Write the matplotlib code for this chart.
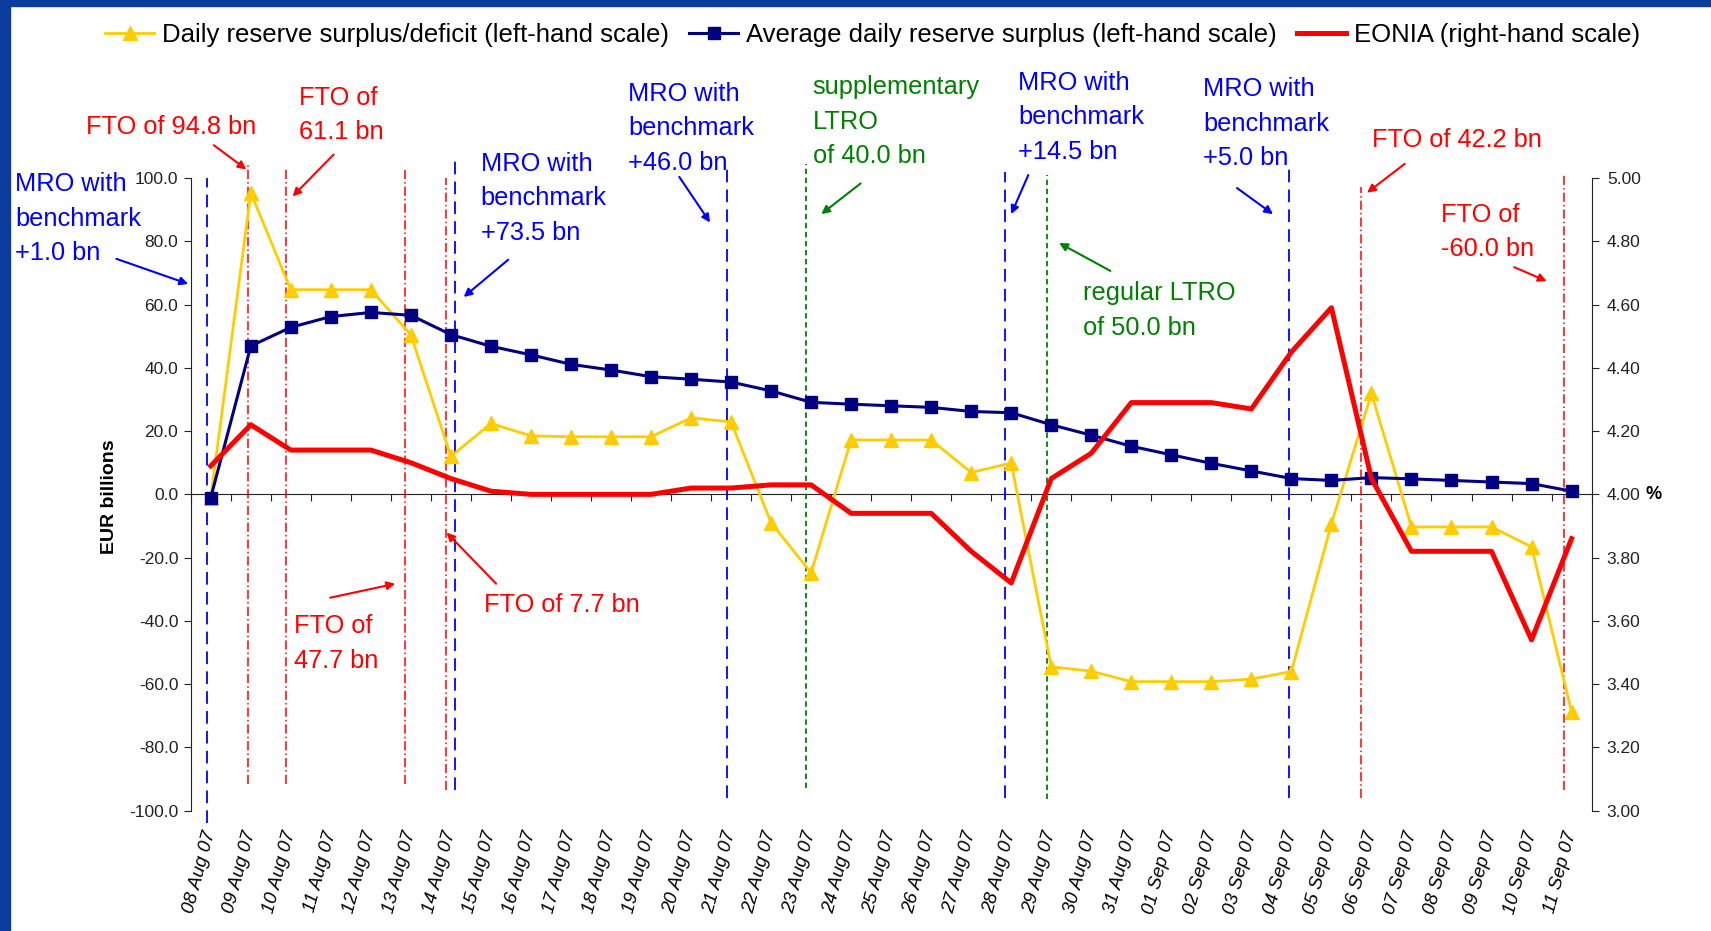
import matplotlib
matplotlib.use("Agg")
import matplotlib.pyplot as plt
import matplotlib.transforms as mtransforms
import numpy as np
from matplotlib.patches import Rectangle
from matplotlib.ticker import FormatStrFormatter

plt.rcParams["font.family"] = ["Liberation Sans", "DejaVu Sans"]
plt.rcParams["axes.unicode_minus"] = False

# --- data ---
dates = [
    "08 Aug 07", "09 Aug 07", "10 Aug 07", "11 Aug 07", "12 Aug 07", "13 Aug 07",
    "14 Aug 07", "15 Aug 07", "16 Aug 07", "17 Aug 07", "18 Aug 07", "19 Aug 07",
    "20 Aug 07", "21 Aug 07", "22 Aug 07", "23 Aug 07", "24 Aug 07", "25 Aug 07",
    "26 Aug 07", "27 Aug 07", "28 Aug 07", "29 Aug 07", "30 Aug 07", "31 Aug 07",
    "01 Sep 07", "02 Sep 07", "03 Sep 07", "04 Sep 07", "05 Sep 07", "06 Sep 07",
    "07 Sep 07", "08 Sep 07", "09 Sep 07", "10 Sep 07", "11 Sep 07",
]
daily_surplus = [
    -1.0, 95.3, 64.7, 64.7, 64.7, 50.4, 12.0, 22.4, 18.5, 18.2, 18.2, 18.2,
    24.2, 22.9, -9.0, -24.8, 17.2, 17.2, 17.2, 6.9, 9.9, -54.5, -55.9, -59.2,
    -59.2, -59.2, -58.4, -56.0, -9.3, 31.9, -10.3, -10.3, -10.3, -16.6, -68.7,
]
avg_surplus = [
    -1.0, 46.9, 52.8, 56.2, 57.5, 56.6, 50.5, 46.8, 44.1, 41.1, 39.3, 37.2,
    36.4, 35.5, 32.7, 29.1, 28.5, 28.0, 27.5, 26.2, 25.8, 22.0, 18.7, 15.2,
    12.5, 9.8, 7.4, 5.0, 4.4, 5.3, 4.9, 4.4, 3.9, 3.4, 1.0,
]
eonia = [
    4.09, 4.22, 4.14, 4.14, 4.14, 4.10, 4.05, 4.01, 4.00, 4.00, 4.00, 4.00,
    4.02, 4.02, 4.03, 4.03, 3.94, 3.94, 3.94, 3.82, 3.72, 4.05, 4.13, 4.29,
    4.29, 4.29, 4.27, 4.45, 4.59, 4.05, 3.82, 3.82, 3.82, 3.54, 3.86,
]

# operation markers: (category position, top, bottom) - top/bottom in axes fraction
mro_ops = [(-0.1, 1.0, -0.02), (6.1, 1.028, 0.033), (12.9, 1.014, 0.02),
           (19.85, 1.01, 0.02), (26.94, 1.014, 0.02)]
fto_ops = [(0.94, 1.02, 0.043), (1.87, 1.014, 0.043), (4.86, 1.014, 0.043),
           (5.88, 1.0, 0.033), (28.74, 0.985, 0.02), (33.82, 1.005, 0.033)]
ltro_ops = [(14.86, 1.022, 0.036), (20.9, 1.005, 0.019)]

BLUE = "#0000FF"
RED = "#FF0000"
GREEN = "#008000"

# callouts: text, colour, text position, arrow tail, arrow head (figure fraction)
callouts = [
    ("MRO with\nbenchmark\n+1.0 bn", BLUE, (0.009, 0.815), (0.068, 0.722), (0.110, 0.695)),
    ("FTO of 94.8 bn", RED, (0.050, 0.877), (0.125, 0.844), (0.144, 0.818)),
    ("FTO of\n61.1 bn", RED, (0.175, 0.908), (0.195, 0.834), (0.171, 0.789)),
    ("MRO with\nbenchmark\n+73.5 bn", BLUE, (0.281, 0.837), (0.297, 0.721), (0.271, 0.681)),
    ("MRO with\nbenchmark\n+46.0 bn", BLUE, (0.367, 0.912), (0.397, 0.810), (0.415, 0.761)),
    ("supplementary\nLTRO\nof 40.0 bn", GREEN, (0.475, 0.919), (0.503, 0.803), (0.480, 0.770)),
    ("MRO with\nbenchmark\n+14.5 bn", BLUE, (0.595, 0.924), (0.601, 0.812), (0.591, 0.770)),
    ("MRO with\nbenchmark\n+5.0 bn", BLUE, (0.703, 0.917), (0.723, 0.798), (0.744, 0.770)),
    ("FTO of 42.2 bn", RED, (0.802, 0.863), (0.821, 0.824), (0.799, 0.793)),
    ("FTO of\n-60.0 bn", RED, (0.842, 0.782), (0.885, 0.713), (0.904, 0.698)),
    ("regular LTRO\nof 50.0 bn", GREEN, (0.633, 0.698), (0.649, 0.709), (0.619, 0.739)),
    ("FTO of\n47.7 bn", RED, (0.172, 0.340), (0.193, 0.358), (0.231, 0.373)),
    ("FTO of 7.7 bn", RED, (0.283, 0.363), (0.290, 0.373), (0.261, 0.428)),
]

fig = plt.figure(figsize=(17.11, 9.31), dpi=100)
fig.patch.set_facecolor("white")

# blue slide frame on the top and left edges
frame = "#0B3C9E"
fig.patches.append(Rectangle((0, 0), 10 / 1711, 1, transform=fig.transFigure, color=frame, zorder=-5))
fig.patches.append(Rectangle((0, 1 - 6 / 931), 1, 6 / 931, transform=fig.transFigure, color=frame, zorder=-5))

ax = fig.add_axes([0.1115, 0.1292, 0.8187, 0.6796])
ax2 = ax.twinx()

x = np.arange(len(dates))
l1, = ax.plot(x, daily_surplus, color="#FFCC00", lw=2.0, marker="^", ms=10,
              label="Daily reserve surplus/deficit (left-hand scale)", zorder=3)
l2, = ax.plot(x, avg_surplus, color="#000080", lw=2.2, marker="s", ms=8.5,
              label="Average daily reserve surplus (left-hand scale)", zorder=4)
l3, = ax2.plot(x, eonia, color=RED, lw=3.6, label="EONIA (right-hand scale)", zorder=5)

ax.set_xlim(-0.5, len(dates) - 0.5)
ax.set_ylim(-100, 100)
ax2.set_ylim(3.0, 5.0)

# axes styling
for a in (ax, ax2):
    a.spines["top"].set_visible(False)
    a.spines["bottom"].set_visible(False)
    a.patch.set_visible(False)
ax.spines["right"].set_visible(False)
ax2.spines["left"].set_visible(False)
ax.spines["left"].set_color("#222222")
ax2.spines["right"].set_color("#222222")

ax.set_yticks(np.arange(-100, 101, 20))
ax.yaxis.set_major_formatter(FormatStrFormatter("%.1f"))
ax.tick_params(axis="y", direction="out", length=5, labelsize=12.5, pad=4, colors="#222222")
ax2.set_yticks(np.arange(3.0, 5.01, 0.2))
ax2.yaxis.set_major_formatter(FormatStrFormatter("%.2f"))
ax2.tick_params(axis="y", direction="out", length=5, labelsize=12.5, pad=6, colors="#222222")

ax.set_xticks(x)
ax.set_xticklabels(dates, rotation=75, ha="right", va="center", rotation_mode="anchor",
                   fontstyle="italic", fontsize=13.5)
ax.tick_params(axis="x", length=0, pad=15)

# category axis drawn along the zero line
zero_axis = ax.secondary_xaxis(0.5)
zero_axis.set_alignment("bottom")
zero_axis.set_xticks(np.arange(-0.5, len(dates), 1.0))
zero_axis.tick_params(axis="x", direction="out", length=5, labelbottom=False, color="#222222")
zero_axis.spines["bottom"].set_color("#222222")

# operation marker lines
trans = mtransforms.blended_transform_factory(ax.transData, ax.transAxes)
for pos, top, bottom in mro_ops:
    ax.plot([pos, pos], [bottom, top], transform=trans, clip_on=False, color=BLUE,
            lw=1.3, dashes=(7, 4), zorder=2)
for pos, top, bottom in fto_ops:
    ax.plot([pos, pos], [bottom, top], transform=trans, clip_on=False, color=RED,
            lw=1.1, dashes=(6, 2, 1, 2), zorder=2)
for pos, top, bottom in ltro_ops:
    ax.plot([pos, pos], [bottom, top], transform=trans, clip_on=False, color=GREEN,
            lw=1.3, dashes=(3, 2), zorder=2)

# callout texts with arrows
for text, color, txt_xy, tail, head in callouts:
    fig.text(txt_xy[0], txt_xy[1], text, color=color, fontsize=18.3, ha="left", va="top",
             linespacing=1.55)
    ax2.annotate("", xy=head, xycoords="figure fraction", xytext=tail,
                 textcoords="figure fraction",
                 arrowprops=dict(arrowstyle="-|>", color=color, lw=1.5, mutation_scale=12,
                                 shrinkA=0, shrinkB=0))

fig.text(0.064, 0.467, "EUR billions", rotation=90, fontweight="bold", fontsize=14,
         ha="center", va="center")
ax2.text(1.0386, 4.0, "%", transform=mtransforms.blended_transform_factory(ax2.transAxes, ax2.transData),
         fontweight="bold", fontsize=13, ha="left", va="center")

fig.legend([l1, l2, l3], [l1.get_label(), l2.get_label(), l3.get_label()],
           loc="center", bbox_to_anchor=(0.510, 0.962), ncol=3, frameon=False,
           fontsize=18.5, handlelength=1.9, handletextpad=0.3, columnspacing=0.8,
           borderaxespad=0)

fig.savefig("out.png", dpi=100)
